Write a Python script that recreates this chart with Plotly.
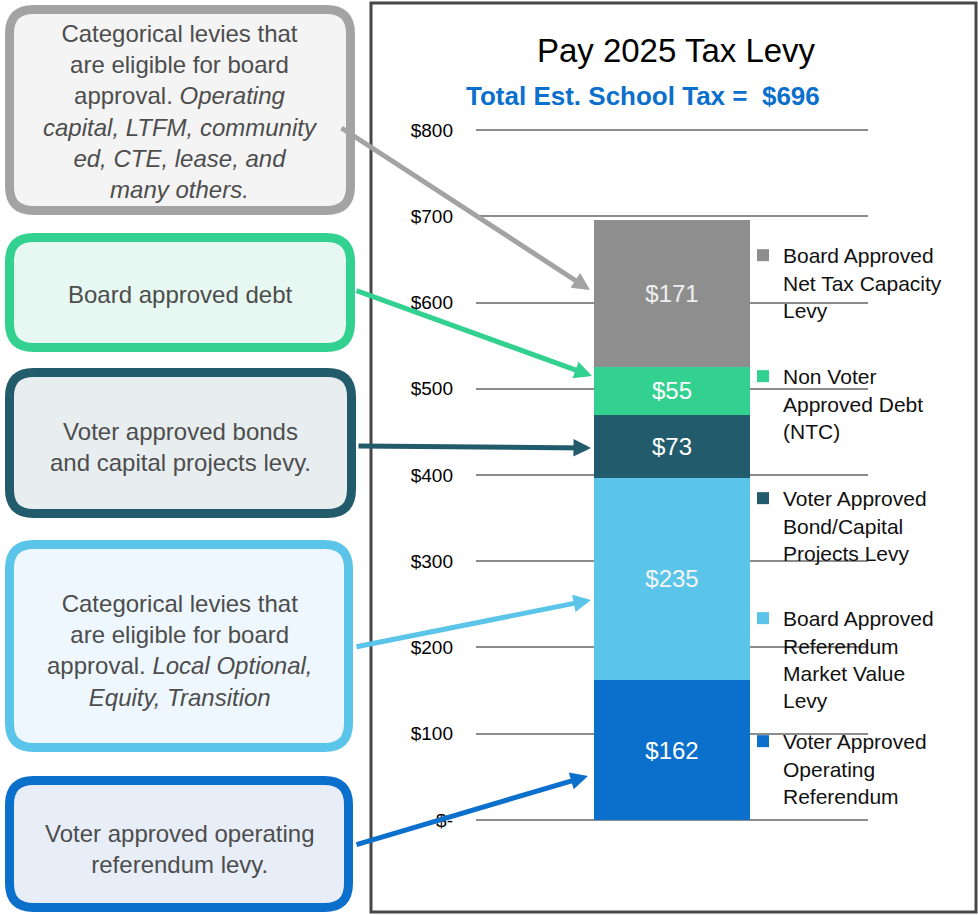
import plotly.graph_objects as go

W, H = 978, 915

# stacked segments, bottom to top
levy_names = [
    "Voter Approved<br>Operating<br>Referendum",
    "Board Approved<br>Referendum<br>Market Value<br>Levy",
    "Voter Approved<br>Bond/Capital<br>Projects Levy",
    "Non Voter<br>Approved Debt<br>(NTC)",
    "Board Approved<br>Net Tax Capacity<br>Levy",
]
levy_values = [162, 235, 73, 55, 171]
levy_colors = ["#0b6fcc", "#5bc5e9", "#225b6b", "#33d18f", "#8e8e8e"]
label_colors = ["#ffffff", "#f4f4f4", "#ffffff", "#ffffff", "#eeeeee"]

tick_vals = [0, 100, 200, 300, 400, 500, 600, 700, 800]
tick_text = ["$-", "$100", "$200", "$300", "$400", "$500", "$600", "$700", "$800"]

# call-out boxes on the left (top to bottom)
note_texts = [
    "Categorical levies that<br>are eligible for board<br>approval. <i>Operating</i><br>"
    "<i>capital, LTFM, community</i><br><i>ed, CTE, lease, and</i><br><i>many others.</i>",
    "Board approved debt",
    "Voter approved bonds<br>and capital projects levy.",
    "Categorical levies that<br>are eligible for board<br>approval. <i>Local Optional,</i><br>"
    "<i>Equity, Transition</i>",
    "Voter approved operating<br>referendum levy.",
]
note_borders = ["#a3a3a3", "#33d18f", "#225b6b", "#5bc5e9", "#0b6fcc"]
note_fills = ["#f4f4f4", "#e6f8f1", "#e8edf0", "#eef7fd", "#e7eef7"]

FONT = "Liberation Sans, Arial, sans-serif"


def X(p):
    return p / W


def Y(p):
    return 1 - p / H


def rounded_box(x0, y0, x1, y1, r):
    """Path string for a rounded rectangle given in pixels."""
    return (f"M {X(x0 + r)},{Y(y0)} L {X(x1 - r)},{Y(y0)} "
            f"Q {X(x1)},{Y(y0)} {X(x1)},{Y(y0 + r)} "
            f"L {X(x1)},{Y(y1 - r)} Q {X(x1)},{Y(y1)} {X(x1 - r)},{Y(y1)} "
            f"L {X(x0 + r)},{Y(y1)} Q {X(x0)},{Y(y1)} {X(x0)},{Y(y1 - r)} "
            f"L {X(x0)},{Y(y0 + r)} Q {X(x0)},{Y(y0)} {X(x0 + r)},{Y(y0)} Z")


fig = go.Figure()

legend_tops = [721, 598, 478, 356, 235]
for i in range(len(levy_values)):
    fig.add_trace(go.Bar(
        x=[0], y=[levy_values[i]], name=levy_names[i],
        marker=dict(color=levy_colors[i], line=dict(width=0)),
        width=0.4,
        text=[f"${levy_values[i]}"], textposition="inside",
        insidetextanchor="middle",
        textfont=dict(size=24, color=label_colors[i], family=FONT),
        legend="legend" if i == 0 else f"legend{i + 1}",
        hoverinfo="skip",
    ))

legends = {}
for i, top in enumerate(legend_tops):
    key = "legend" if i == 0 else f"legend{i + 1}"
    legends[key] = dict(x=X(743), y=Y(top), xanchor="left", yanchor="top",
                        bgcolor="rgba(0,0,0,0)", valign="top",
                        font=dict(size=21, color="#111111", family=FONT))

# boxes: (x0, y0, x1, y1) outer edges in pixels
box_px = [(5, 5, 355, 215), (5, 233, 355, 352), (5, 368, 356, 518),
          (5, 540, 353, 752), (5, 776, 353, 912)]
text_cy = [112, 294, 447, 650, 849]

shapes = [dict(type="rect", xref="paper", yref="paper",
               x0=X(371), x1=X(976), y0=Y(912), y1=Y(3),
               line=dict(color="#474747", width=3), layer="below")]
for (x0, y0, x1, y1), bc, fc in zip(box_px, note_borders, note_fills):
    shapes.append(dict(type="path", xref="paper", yref="paper",
                       path=rounded_box(x0 + 4.5, y0 + 4.5, x1 - 4.5, y1 - 4.5, 24),
                       line=dict(color=bc, width=9), fillcolor=fc))

annotations = [dict(text="<b>Total Est. School Tax =  $696</b>", x=X(643), y=Y(96),
                    xref="paper", yref="paper", showarrow=False,
                    xanchor="center", yanchor="middle",
                    font=dict(size=26, color="#0b6fcc", family=FONT))]
for txt, cy in zip(note_texts, text_cy):
    annotations.append(dict(text=txt, x=X(180), y=Y(cy), xref="paper", yref="paper",
                            showarrow=False, align="center",
                            xanchor="center", yanchor="middle",
                            font=dict(size=24, color="#4d4d4d", family=FONT)))

# arrows: (tail, head) in pixels
arrows = [((340, 127), (590, 290)), ((355, 290), (592, 376)),
          ((357, 446), (591, 448)), ((355, 647), (591, 600)),
          ((355, 845), (588, 776))]
for ((tx, ty), (hx, hy)), c in zip(arrows, note_borders):
    annotations.append(dict(text="", x=X(hx), y=Y(hy), xref="paper", yref="paper",
                            ax=tx - hx, ay=ty - hy, showarrow=True,
                            arrowhead=2, arrowsize=0.7, arrowwidth=5,
                            arrowcolor=c, standoff=0))

fig.update_layout(
    width=W, height=H,
    margin=dict(l=0, r=0, t=0, b=0, autoexpand=False),
    paper_bgcolor="white", plot_bgcolor="white",
    barmode="stack",
    title=dict(text="Pay 2025 Tax Levy", x=X(676), y=Y(50), xanchor="center",
               yanchor="middle", font=dict(size=33, color="black", family=FONT)),
    xaxis=dict(domain=[X(476), X(868)], range=[-0.5, 0.5], visible=False,
               automargin=False),
    yaxis=dict(domain=[Y(821.7), Y(128.3)], range=[-2, 802],
               tickvals=tick_vals, ticktext=tick_text, showgrid=True,
               gridcolor="#8c8c8c", gridwidth=1.5, zeroline=False, showline=False,
               ticks="", ticklabelstandoff=22, automargin=False,
               tickfont=dict(size=19, color="black", family=FONT)),
    shapes=shapes,
    annotations=annotations,
    showlegend=True,
    **legends,
)

# drop the browser's default 8px body margin so the figure sits at the page corner
fig.write_html("out.html", config={"displayModeBar": False},
               post_script="document.body.style.margin='0px';")
